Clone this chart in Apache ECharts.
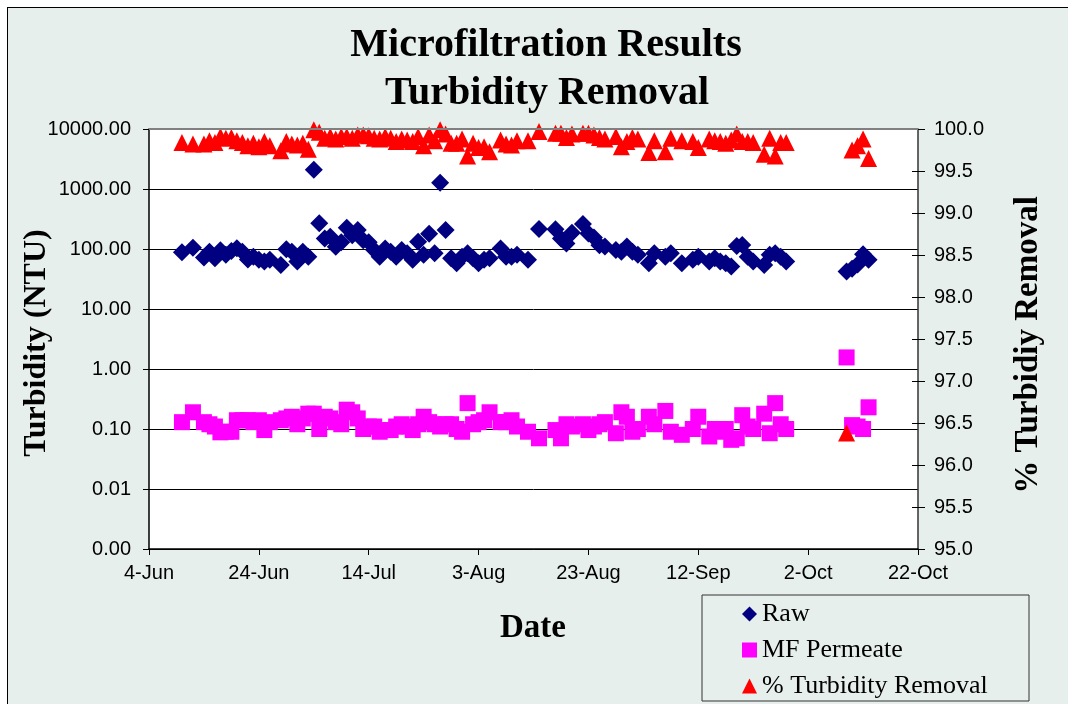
<!DOCTYPE html>
<html>
<head>
<meta charset="utf-8">
<script src="https://cdn.jsdelivr.net/npm/echarts@6/dist/echarts.min.js"></script>
<style>
  html, body { margin: 0; padding: 0; background: #ffffff; }
  #bg { position: absolute; left: 7px; top: 7px; width: 1100px; height: 760px; border: 1px solid #000; background: #E7EFEC; }
  #chart { position: absolute; left: 0; top: 0; width: 1068px; height: 704px; }
</style>
</head>
<body>
<div id="bg"></div>
<div id="chart"></div>
<script>
// Dates (month-day) of the samples
const dates = [
  '06-10','06-12','06-14','06-15','06-16','06-17','06-18','06-19','06-20','06-21',
  '06-22','06-23','06-24','06-25','06-26','06-28','06-29','06-30','07-01','07-02',
  '07-03','07-04','07-05','07-06','07-07','07-08','07-09','07-10','07-11','07-12',
  '07-13','07-14','07-15','07-16','07-17','07-18','07-19','07-20','07-21','07-22',
  '07-23','07-24','07-25','07-26','07-27','07-28','07-29','07-30','07-31','08-01',
  '08-02','08-03','08-04','08-05','08-07','08-08','08-09','08-10','08-12','08-14',
  '08-17','08-18','08-19','08-20','08-22','08-23','08-24','08-25','08-26','08-28',
  '08-29','08-30','08-31','09-01','09-03','09-04','09-06','09-07','09-09','09-11',
  '09-12','09-14','09-15','09-16','09-17','09-18','09-19','09-20','09-21','09-22',
  '09-24','09-25','09-26','09-27','09-28','10-09','10-10','10-11','10-12','10-13'
];
// Raw turbidity (NTU)
const raw = [
  88,105,72,90,70,95,80,93,103,90,
  67,74,66,62,66,54,99,90,62,90,
  74,2090,268,150,160,109,130,225,170,208,
  140,130,96,74,102,90,74,96,85,66,
  132,80,180,85,1270,207,70,58,74,85,
  70,58,66,70,102,74,74,80,66,215,
  213,150,124,187,260,182,156,116,110,96,
  90,110,90,80,58,85,74,85,58,66,
  74,62,70,62,58,51,112,117,74,62,
  54,80,85,74,62,42,47,55,82,66
];
// MF permeate turbidity (NTU)
const permeate = [
  0.13,0.19,0.13,0.12,0.11,0.088,0.09,0.09,0.14,0.14,
  0.14,0.13,0.14,0.096,0.13,0.14,0.15,0.16,0.12,0.15,
  0.18,0.18,0.10,0.16,0.15,0.13,0.12,0.21,0.19,0.15,
  0.10,0.11,0.11,0.09,0.096,0.096,0.11,0.12,0.11,0.096,
  0.12,0.16,0.13,0.12,0.11,0.12,0.12,0.10,0.09,0.27,
  0.12,0.13,0.14,0.19,0.13,0.13,0.14,0.11,0.09,0.07,
  0.096,0.07,0.12,0.11,0.12,0.096,0.11,0.12,0.13,0.085,
  0.19,0.16,0.09,0.10,0.16,0.12,0.20,0.09,0.08,0.10,
  0.16,0.075,0.10,0.09,0.10,0.066,0.07,0.17,0.11,0.10,
  0.18,0.085,0.27,0.12,0.10,1.56,0.116,0.11,0.10,0.23
];
// % turbidity removal
const removal = [
  99.84,99.82,99.82,99.86,99.84,99.91,99.89,99.90,99.86,99.84,
  99.80,99.83,99.79,99.85,99.80,99.74,99.85,99.82,99.81,99.83,
  99.76,99.99,99.96,99.89,99.91,99.88,99.91,99.91,99.89,99.93,
  99.93,99.92,99.89,99.88,99.91,99.89,99.85,99.88,99.87,99.85,
  99.91,99.80,99.93,99.86,99.99,99.94,99.83,99.83,99.88,99.68,
  99.83,99.78,99.79,99.73,99.87,99.82,99.81,99.86,99.86,99.97,
  99.95,99.95,99.90,99.94,99.95,99.95,99.93,99.90,99.88,99.91,
  99.79,99.85,99.90,99.88,99.72,99.86,99.73,99.89,99.86,99.85,
  99.78,99.88,99.86,99.85,99.83,99.87,99.94,99.85,99.85,99.84,
  99.70,99.89,99.68,99.84,99.84,96.38,99.75,99.80,99.88,99.65
];
const xTickLabels = ['4-Jun','24-Jun','14-Jul','3-Aug','23-Aug','12-Sep','2-Oct','22-Oct'];

function dayOffset(s) {
  const p = s.split('-').map(Number);
  return (Date.UTC(2004, p[0] - 1, p[1]) - Date.UTC(2004, 5, 4)) / 86400000;
}

const serif = 'Liberation Serif';
const sans = 'Liberation Sans';

const chart = echarts.init(document.getElementById('chart'), null, { renderer: 'canvas' });
chart.setOption({
  animation: false,
  backgroundColor: 'transparent',
  grid: { left: 149, top: 129, width: 769, height: 420, show: true, backgroundColor: '#ffffff', borderWidth: 0, containLabel: false },
  xAxis: {
    type: 'value', min: 0, max: 140, interval: 20,
    axisLine: { show: true, lineStyle: { color: '#000', width: 1.5 } },
    axisTick: { show: true, length: 6, lineStyle: { color: '#000' } },
    axisLabel: { margin: 14, fontFamily: sans, fontSize: 20, color: '#000',
      formatter: v => xTickLabels[Math.round(v / 20)] || '' },
    splitLine: { show: false }
  },
  yAxis: [
    {
      type: 'log', logBase: 10, min: 0.001, max: 10000, position: 'left',
      axisLine: { show: true, lineStyle: { color: '#000', width: 1.5 } },
      axisTick: { show: true, length: 6, lineStyle: { color: '#000' } },
      axisLabel: { margin: 18, fontFamily: sans, fontSize: 20, color: '#000',
        formatter: v => Number(v).toFixed(2) },
      splitLine: { show: true, lineStyle: { color: '#000', width: 1 } }
    },
    {
      type: 'value', min: 95, max: 100, interval: 0.5, position: 'right',
      axisLine: { show: true, lineStyle: { color: '#333', width: 1.5 } },
      axisTick: { show: true, length: 7, lineStyle: { color: '#000' } },
      axisLabel: { margin: 16, fontFamily: sans, fontSize: 20, color: '#000',
        formatter: v => Number(v).toFixed(1) },
      splitLine: { show: false }
    },
    {
      type: 'value', min: 95, max: 100, interval: 0.5, position: 'right',
      axisLine: { show: false },
      axisTick: { show: true, inside: true, length: 6, lineStyle: { color: '#000' } },
      axisLabel: { show: false },
      splitLine: { show: false }
    }
  ],
  legend: {
    orient: 'vertical', left: 742, top: 601, height: 120, padding: 0,
    itemWidth: 15, itemHeight: 15, itemGap: 10,
    textStyle: { fontFamily: serif, fontSize: 26, color: '#000' },
    data: ['Raw', 'MF Permeate', '% Turbidity Removal']
  },
  series: [
    {
      name: 'Raw', type: 'scatter', yAxisIndex: 0, symbol: 'diamond', symbolSize: 18,
      itemStyle: { color: '#000080', opacity: 1 },
      data: dates.map((d, i) => [dayOffset(d), raw[i]])
    },
    {
      name: 'MF Permeate', type: 'scatter', yAxisIndex: 0, symbol: 'rect', symbolSize: 16,
      itemStyle: { color: '#FF00FF', opacity: 1 },
      data: dates.map((d, i) => [dayOffset(d), permeate[i]])
    },
    {
      name: '% Turbidity Removal', type: 'scatter', yAxisIndex: 1, symbol: 'triangle', symbolSize: 17,
      itemStyle: { color: '#FF0000', opacity: 1 },
      data: dates.map((d, i) => [dayOffset(d), removal[i]])
    }
  ],
  graphic: [
    { type: 'line', z: 100, shape: { x1: 149, y1: 129, x2: 918, y2: 129 }, style: { stroke: '#808080', lineWidth: 2 } },
    { type: 'rect', z: 100, shape: { x: 702, y: 595, width: 327, height: 106 }, style: { fill: 'none', stroke: '#333', lineWidth: 1 } },
    { type: 'text', z: 100, style: { text: 'Microfiltration Results', x: 546, y: 46, align: 'center', verticalAlign: 'middle', font: 'bold 40px "Liberation Serif"', fill: '#000' } },
    { type: 'text', z: 100, style: { text: 'Turbidity Removal', x: 547, y: 94, align: 'center', verticalAlign: 'middle', font: 'bold 40px "Liberation Serif"', fill: '#000' } },
    { type: 'text', z: 100, x: 37, y: 343, rotation: Math.PI / 2, style: { text: 'Turbidity (NTU)', x: 0, y: 0, align: 'center', verticalAlign: 'middle', font: 'bold 32px "Liberation Serif"', fill: '#000' } },
    { type: 'text', z: 100, x: 1028, y: 345, rotation: Math.PI / 2, style: { text: '% Turbidiy Removal', x: 0, y: 0, align: 'center', verticalAlign: 'middle', font: 'bold 33px "Liberation Serif"', fill: '#000' } },
    { type: 'text', z: 100, style: { text: 'Date', x: 533, y: 628, align: 'center', verticalAlign: 'middle', font: 'bold 33px "Liberation Serif"', fill: '#000' } }
  ]
});
</script>
</body>
</html>
